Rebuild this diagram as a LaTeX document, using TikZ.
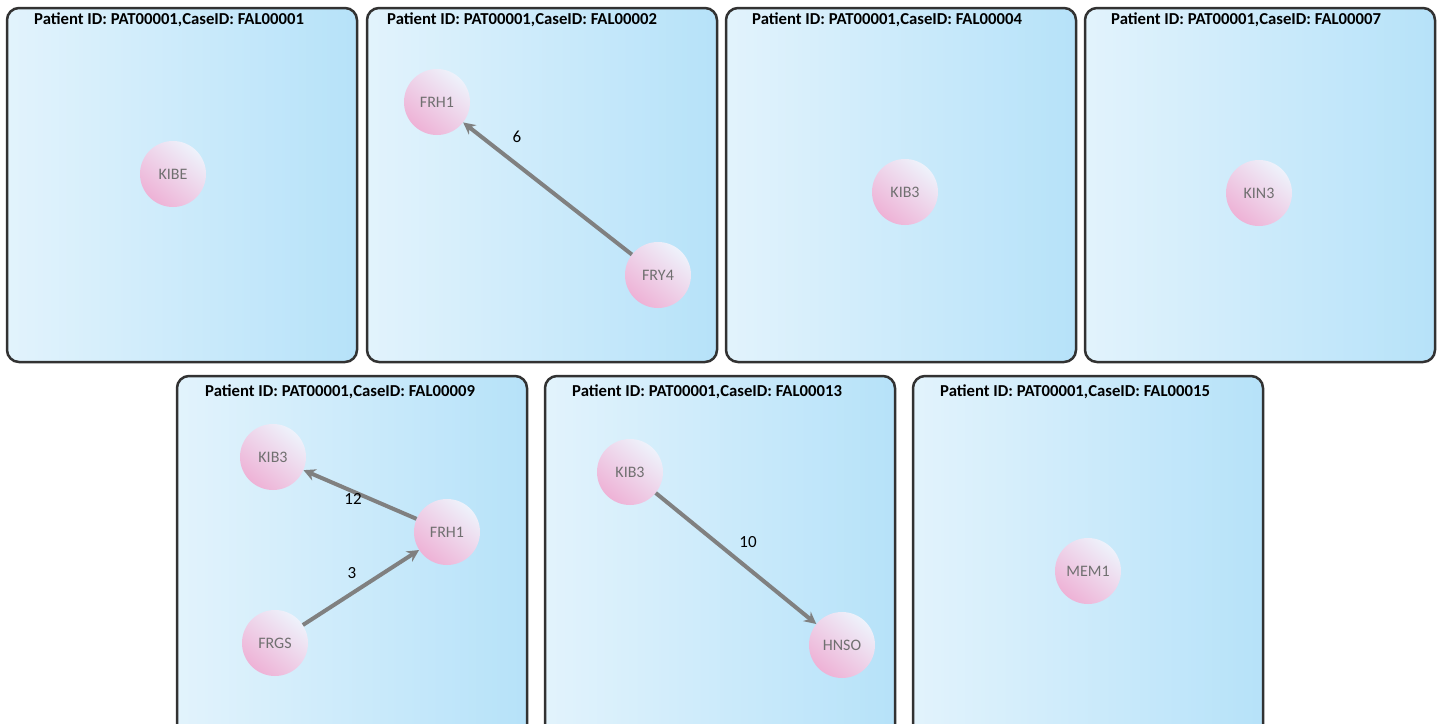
\documentclass[tikz,border=0pt]{standalone}
\usepackage{fontspec}
\setmainfont{Carlito}
\usetikzlibrary{arrows.meta}
\definecolor{panelleft}{RGB}{226,243,252}
\definecolor{panelright}{RGB}{182,226,249}
\definecolor{panelline}{RGB}{50,50,50}
\definecolor{genepink}{RGB}{238,178,214}
\definecolor{genewhite}{RGB}{238,242,251}
\definecolor{genetext}{RGB}{112,112,112}
\definecolor{linkgray}{RGB}{128,128,128}

\begin{document}
\begin{tikzpicture}[x=1pt,y=-1pt,
    panel/.style={draw=panelline, line width=2.5pt, rounded corners=12pt, left color=panelleft, right color=panelright},
    casetitle/.style={anchor=west, inner sep=0pt, font=\bfseries\fontsize{16.7}{20}\selectfont},
    gene/.style={circle, minimum size=66pt, inner sep=0pt, top color=genewhite, bottom color=genepink, shading angle=-40, text=genetext, font=\fontsize{16}{19}\selectfont},
    link/.style={draw=linkgray, line width=4pt, -{Stealth[length=12pt,width=12pt]}},
    weight/.style={inner sep=0pt, font=\fontsize{17}{20}\selectfont}]
    \useasboundingbox (0,0) rectangle (1440,723);
    \clip (0,0) rectangle (1440,723);

    % top row
    \draw[panel] (7,8) rectangle (357,362);
    \node[casetitle] (title1) at (34,20) {Patient ID: PAT00001,CaseID: FAL00001};
    \node[gene] (kibe) at (173,174) {KIBE};

    \draw[panel] (367,8) rectangle (717,362);
    \node[casetitle] (title2) at (387,20) {Patient ID: PAT00001,CaseID: FAL00002};
    \node[gene] (frh1a) at (437,102) {FRH1};
    \node[gene] (fry4) at (658,275) {FRY4};
    \draw[link] (fry4) -- (frh1a);
    \node[weight] (w6) at (517,137) {6};

    \draw[panel] (726,8) rectangle (1076,362);
    \node[casetitle] (title3) at (752,20) {Patient ID: PAT00001,CaseID: FAL00004};
    \node[gene] (kib3a) at (905,192) {KIB3};

    \draw[panel] (1085,8) rectangle (1435,362);
    \node[casetitle] (title4) at (1111,20) {Patient ID: PAT00001,CaseID: FAL00007};
    \node[gene] (kin3) at (1259,193) {KIN3};

    % bottom row
    \draw[panel] (177,376) rectangle (527,740);
    \node[casetitle] (title5) at (205,392) {Patient ID: PAT00001,CaseID: FAL00009};
    \node[gene] (kib3b) at (273,457) {KIB3};
    \node[gene] (frh1b) at (447,532) {FRH1};
    \node[gene] (frgs) at (275,643) {FRGS};
    \draw[link] (frh1b) -- (kib3b);
    \draw[link] (frgs) -- (frh1b);
    \node[weight] (w12) at (353,499) {12};
    \node[weight] (w3) at (352,573) {3};

    \draw[panel] (545,376) rectangle (895,740);
    \node[casetitle] (title6) at (572,392) {Patient ID: PAT00001,CaseID: FAL00013};
    \node[gene] (kib3c) at (630,472) {KIB3};
    \node[gene] (hnso) at (842,645) {HNSO};
    \draw[link] (kib3c) -- (hnso);
    \node[weight] (w10) at (748,542) {10};

    \draw[panel] (913,376) rectangle (1263,740);
    \node[casetitle] (title7) at (940,392) {Patient ID: PAT00001,CaseID: FAL00015};
    \node[gene] (mem1) at (1088,571) {MEM1};
\end{tikzpicture}
\end{document}
